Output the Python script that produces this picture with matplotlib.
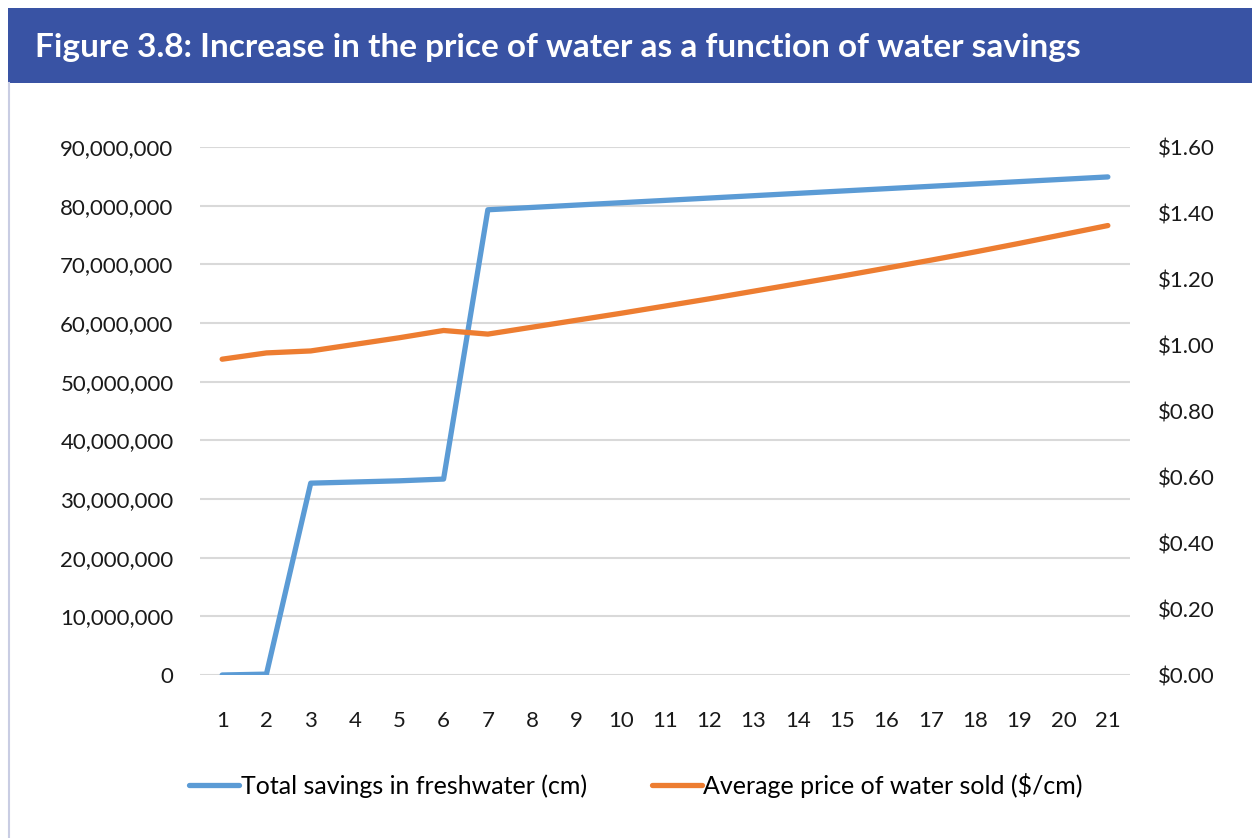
import matplotlib.pyplot as plt
from matplotlib.patches import Rectangle
from matplotlib.lines import Line2D
from matplotlib.ticker import FuncFormatter

# data
steps = list(range(1, 22))
savings = [0, 0.15e6, 32.7e6, 32.9e6, 33.1e6, 33.4e6, 79.3e6, 79.7e6, 80.1e6, 80.5e6,
           80.9e6, 81.3e6, 81.7e6, 82.1e6, 82.5e6, 82.9e6, 83.3e6, 83.7e6, 84.1e6,
           84.5e6, 84.9e6]
price = [0.957, 0.976, 0.982, 1.002, 1.022, 1.044, 1.033, 1.054, 1.075, 1.096,
         1.118, 1.140, 1.163, 1.186, 1.209, 1.233, 1.257, 1.282, 1.308, 1.335, 1.362]
left_ticks = [i * 10_000_000 for i in range(10)]
right_ticks = [i * 0.2 for i in range(9)]

title = "Figure 3.8: Increase in the price of water as a function of water savings"
label_savings = "Total savings in freshwater (cm)"
label_price = "Average price of water sold ($/cm)"

blue = "#5B9BD5"
orange = "#ED7D31"
font = "Lato"

fig = plt.figure(figsize=(12.52, 8.38), dpi=100)

# title banner
fig.patches.append(Rectangle((8 / 1252, 1 - 83 / 838), 1, 75 / 838, transform=fig.transFigure,
                             facecolor="#3953A4", edgecolor="none", zorder=0))
fig.lines.append(Line2D([8.5 / 1252, 8.5 / 1252], [0, 1 - 83 / 838], transform=fig.transFigure,
                        color="#C9CDE3", lw=1.5))
fig.text(35 / 1252, 1 - 47 / 838, title, color="white", fontsize=24, fontweight="bold",
         family=font, va="center", ha="left")

ax = fig.add_axes([200 / 1252, 1 - 675 / 838, 930 / 1252, 528 / 838])
ax2 = ax.twinx()

ax.plot(steps, savings, color=blue, lw=3.8, solid_capstyle="round", solid_joinstyle="round", zorder=3)
ax2.plot(steps, price, color=orange, lw=3.8, solid_capstyle="round", solid_joinstyle="round", zorder=3)

ax.set_xlim(0.5, 21.5)
ax.set_ylim(0, 90_000_000)
ax2.set_ylim(0, 1.6)
ax.set_xticks(steps)
ax.set_yticks(left_ticks)
ax2.set_yticks(right_ticks)
ax.yaxis.set_major_formatter(FuncFormatter(lambda v, p: f"{int(v):,}"))
ax2.yaxis.set_major_formatter(FuncFormatter(lambda v, p: f"${v:.2f}"))

ax.grid(axis="y", color="#D9D9D9", lw=1.5)
ax.set_axisbelow(True)
for a in (ax, ax2):
    for s in a.spines.values():
        s.set_visible(False)
    a.tick_params(length=0, labelsize=16, labelcolor="#1a1a1a")
    for t in a.get_xticklabels() + a.get_yticklabels():
        t.set_family(font)
ax.tick_params(axis="y", pad=19)
ax2.tick_params(axis="y", pad=20)
ax.tick_params(axis="x", pad=26)

handles = [Line2D([], [], color=blue, lw=3.8, solid_capstyle="round"),
           Line2D([], [], color=orange, lw=3.8, solid_capstyle="round")]
fig.legend(handles, [label_savings, label_price], loc="center", ncol=2,
           bbox_to_anchor=(636 / 1252, 1 - 785 / 838), frameon=False,
           prop={"family": font, "size": 18}, handlelength=2.0, handletextpad=0.05,
           columnspacing=2.6)

fig.savefig("out.png", dpi=100)
